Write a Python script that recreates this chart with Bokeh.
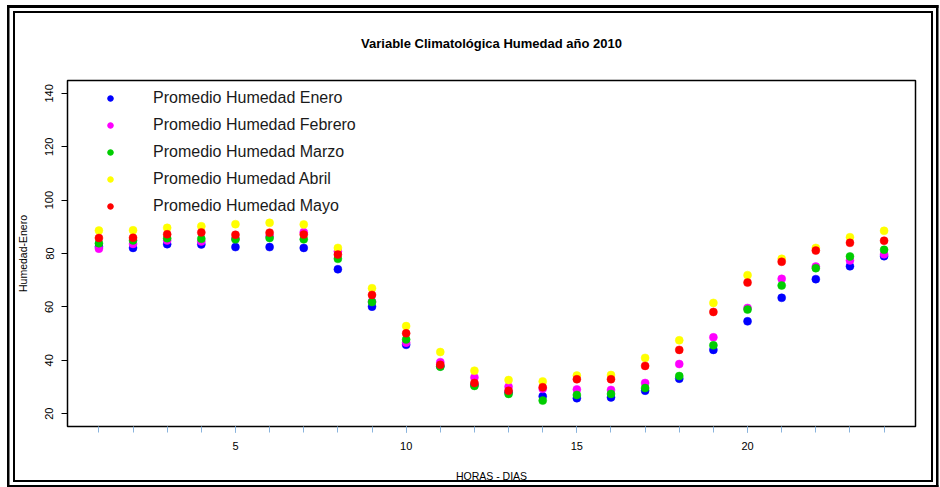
from bokeh.plotting import figure
from bokeh.models import (Range1d, FixedTicker, Legend, LegendItem,
                          ColumnDataSource)
from bokeh.embed import file_html
from bokeh.resources import INLINE

# Hourly mean relative humidity, January to May 2010
horas = list(range(1, 25))
enero = [82.5, 82.1, 83.5, 83.4, 82.4, 82.4, 82.1, 74.1, 60.1, 45.8, 37.8, 30.8,
         28.0, 26.5, 25.8, 26.1, 28.6, 33.1, 43.9, 54.6, 63.4, 70.4, 75.2, 79.0]
febrero = [81.8, 83.6, 84.9, 84.5, 85.5, 86.5, 88.0, 80.8, 62.0, 46.6, 39.3, 33.6,
           30.1, 29.3, 29.1, 28.9, 31.5, 38.6, 48.6, 59.6, 70.5, 75.1, 77.4, 79.7]
marzo = [83.8, 84.9, 85.7, 85.5, 85.3, 85.8, 85.3, 78.0, 61.8, 47.8, 37.6, 30.4,
         27.4, 24.9, 27.0, 27.4, 29.6, 34.1, 45.6, 59.0, 68.0, 74.5, 78.9, 81.4]
abril = [88.6, 88.7, 89.6, 90.2, 91.0, 91.5, 90.9, 82.1, 67.0, 52.8, 43.1, 36.1,
         32.6, 32.1, 34.3, 34.5, 40.9, 47.5, 61.5, 71.9, 78.0, 82.1, 86.1, 88.5]
mayo = [85.8, 85.9, 87.2, 87.9, 87.0, 87.8, 87.1, 79.6, 64.5, 50.1, 38.3, 31.5,
        28.6, 29.9, 32.9, 32.9, 37.9, 43.9, 58.1, 69.1, 76.9, 81.1, 84.0, 84.8]

series_names = ["Promedio Humedad Enero", "Promedio Humedad Febrero",
                "Promedio Humedad Marzo", "Promedio Humedad Abril",
                "Promedio Humedad Mayo"]
series_values = [enero, febrero, marzo, abril, mayo]
series_colors = ["#0000ff", "#ff00ff", "#00cd00", "#ffff00", "#ff0000"]

x_ticks = [5, 10, 15, 20]
y_ticks = [20, 40, 60, 80, 100, 120, 140]

FONT = "Liberation Sans"

# double black frame around the whole graphic, painted as CSS background
# strips behind a transparent canvas: (left, top, width, height) in px
frame_strips = [
    (7, 5, 2.5, 482), (7, 5, 931.5, 3), (936, 5, 2.5, 482), (7, 484.5, 931.5, 2.5),
    (13, 11, 2, 471), (13, 11, 919.5, 2), (930.5, 11, 2, 471), (13, 480, 919.5, 2),
]
frame_css = {
    "background-color": "white",
    "background-image": ", ".join(["linear-gradient(#000, #000)"] * len(frame_strips)),
    "background-size": ", ".join(f"{w}px {h}px" for _, _, w, h in frame_strips),
    "background-position": ", ".join(f"{l}px {t}px" for l, t, _, _ in frame_strips),
    "background-repeat": "no-repeat",
}

p = figure(width=940, height=487, output_backend="svg", toolbar_location=None,
           x_range=Range1d(0.08, 24.92), y_range=Range1d(15.2, 144.8),
           min_border_left=67, min_border_right=25, min_border_top=80,
           min_border_bottom=61, background_fill_color="white",
           border_fill_color=None, styles=frame_css)
p.xgrid.visible = False
p.ygrid.visible = False
p.outline_line_color = "black"
p.outline_line_width = 1.5

p.title.text = "Variable Climatológica Humedad año 2010"
p.title.align = "center"
p.title.text_font = FONT
p.title.text_font_size = "13px"
p.title.text_font_style = "bold"
p.title.text_color = "black"
p.title.standoff = 60

# x axis: light-blue ticks at every hour, labels every five
xa = p.xaxis[0]
xa.ticker = FixedTicker(ticks=x_ticks, minor_ticks=horas)
xa.axis_line_color = None
xa.major_tick_line_color = "#5b8fc7"
xa.minor_tick_line_color = "#8ab4dd"
xa.major_tick_in = 0
xa.major_tick_out = 6
xa.minor_tick_in = 0
xa.minor_tick_out = 6
xa.major_label_text_font = FONT
xa.major_label_text_font_size = "11px"
xa.major_label_text_color = "black"
xa.major_label_standoff = 9
xa.axis_label = "HORAS - DIAS"
xa.axis_label_text_font = FONT
xa.axis_label_text_font_size = "10.5px"
xa.axis_label_text_font_style = "normal"
xa.axis_label_text_color = "black"
xa.axis_label_standoff = 17

ya = p.yaxis[0]
ya.ticker = FixedTicker(ticks=y_ticks)
ya.axis_line_color = None
ya.major_tick_line_color = "black"
ya.minor_tick_line_color = None
ya.major_tick_in = 0
ya.major_tick_out = 6
ya.major_label_orientation = "vertical"
ya.major_label_text_font = FONT
ya.major_label_text_font_size = "11px"
ya.major_label_text_color = "black"
ya.major_label_standoff = 8
ya.axis_label = "Humedad-Enero"
ya.axis_label_text_font = FONT
ya.axis_label_text_font_size = "10.5px"
ya.axis_label_text_font_style = "normal"
ya.axis_label_text_color = "black"
ya.axis_label_standoff = 14

items = []
for name, vals, col in zip(series_names, series_values, series_colors):
    src = ColumnDataSource(dict(x=horas, y=vals))
    p.scatter("x", "y", source=src, size=8, fill_color=col, line_color=col,
              line_width=0.5)
    # smaller dot used only as the legend key; its single point is NaN so
    # nothing is drawn inside the plot area
    key_src = ColumnDataSource(dict(x=[float("nan")], y=[float("nan")]))
    key = p.scatter("x", "y", source=key_src, size=6, fill_color=col,
                    line_color=col)
    items.append(LegendItem(label=name, renderers=[key]))

legend = Legend(items=items, location=(36, 210), border_line_color=None,
                background_fill_alpha=0, padding=0, margin=0, spacing=7,
                glyph_width=14, glyph_height=14, label_height=20,
                label_standoff=36, label_text_font=FONT,
                label_text_font_size="16px", label_text_color="#1a1a1a")
p.add_layout(legend, "center")

open("out.html", "w").write(file_html(p, INLINE))
